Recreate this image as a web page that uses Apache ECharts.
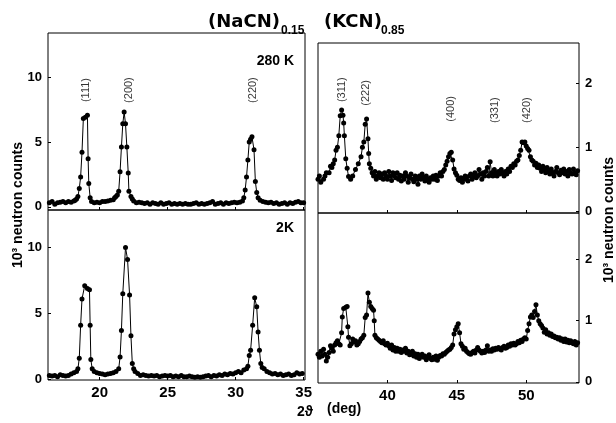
<!DOCTYPE html>
<html>
<head>
<meta charset="utf-8">
<script src="https://cdn.jsdelivr.net/npm/echarts@6/dist/echarts.min.js"></script>
<style>
  html, body { margin: 0; padding: 0; background: #fff; }
  #chart { width: 616px; height: 423px; }
</style>
</head>
<body>
<div id="chart"></div>
<script>
// (NaCN)0.15 (KCN)0.85 neutron powder patterns, 2theta in deg, counts in 10^3

// left block, 2theta 16..35
const naCN280K = [
  [16.3,0.3],[16.5,0.4],[16.7,0.2],[16.9,0.3],[17.1,0.35],[17.3,0.4],[17.5,0.3],[17.7,0.4],[17.9,0.35],
  [18.1,0.45],[18.2,0.5],[18.3,0.6],[18.4,0.8],[18.5,1.4],[18.6,2.3],[18.7,4.2],[18.8,6.8],[18.95,6.9],
  [19.1,7.05],[19.15,3.7],[19.2,1.8],[19.3,0.7],[19.4,0.4],[19.6,0.3],[19.8,0.35],[20.0,0.3],[20.2,0.4],
  [20.4,0.4],[20.6,0.45],[20.8,0.5],[21.0,0.55],[21.1,0.7],[21.2,0.8],[21.3,0.9],[21.4,1.2],[21.5,2.7],
  [21.6,4.6],[21.7,6.4],[21.8,7.3],[21.9,6.4],[22.0,4.6],[22.1,2.6],[22.15,1.2],[22.3,0.8],[22.4,0.6],
  [22.5,0.45],[22.7,0.3],[22.9,0.35],[23.1,0.3],[23.3,0.25],[23.5,0.3],[23.7,0.2],[23.9,0.3],[24.1,0.25],
  [24.3,0.2],[24.5,0.3],[24.7,0.2],[24.9,0.25],[25.1,0.3],[25.3,0.2],[25.5,0.25],[25.7,0.2],[25.9,0.25],
  [26.1,0.2],[26.3,0.25],[26.5,0.2],[26.7,0.2],[26.9,0.25],[27.1,0.3],[27.3,0.2],[27.5,0.25],[27.7,0.2],
  [27.9,0.25],[28.1,0.3],[28.3,0.4],[28.5,0.2],[28.7,0.25],[28.9,0.3],[29.1,0.2],[29.3,0.3],[29.5,0.25],
  [29.7,0.3],[29.9,0.35],[30.1,0.3],[30.3,0.35],[30.5,0.45],[30.6,0.7],[30.7,1.3],[30.8,2.3],[30.9,3.6],
  [31.0,5.0],[31.1,5.2],[31.2,5.4],[31.35,4.4],[31.45,1.95],[31.55,1.1],[31.65,0.7],[31.8,0.5],[32.0,0.4],
  [32.2,0.35],[32.4,0.3],[32.6,0.35],[32.8,0.25],[33.0,0.3],[33.2,0.2],[33.4,0.25],[33.6,0.3],[33.8,0.2],
  [34.0,0.3],[34.2,0.25],[34.4,0.35],[34.6,0.4],[34.8,0.3],[35.0,0.3]
]

const naCN2K = [
  [16.3,0.3],[16.5,0.25],[16.7,0.3],[16.9,0.2],[17.1,0.35],[17.3,0.3],[17.5,0.25],[17.7,0.3],[17.9,0.4],
  [18.1,0.5],[18.3,0.6],[18.4,0.8],[18.5,1.6],[18.6,4.1],[18.7,6.1],[18.9,7.1],[19.1,6.9],[19.25,6.8],
  [19.3,4.1],[19.35,1.5],[19.45,0.8],[19.6,0.6],[19.8,0.5],[20.0,0.45],[20.2,0.4],[20.4,0.35],[20.6,0.4],
  [20.8,0.45],[21.0,0.5],[21.2,0.6],[21.4,0.8],[21.5,1.7],[21.6,3.7],[21.7,6.5],[21.9,10.0],[22.05,9.1],
  [22.2,6.4],[22.3,3.3],[22.4,1.2],[22.5,0.8],[22.6,0.6],[22.8,0.45],[23.0,0.3],[23.2,0.35],[23.4,0.3],
  [23.6,0.25],[23.8,0.3],[24.0,0.25],[24.2,0.3],[24.4,0.2],[24.6,0.25],[24.8,0.3],[25.0,0.25],[25.2,0.3],
  [25.4,0.2],[25.6,0.25],[25.8,0.2],[26.0,0.3],[26.2,0.2],[26.4,0.2],[26.6,0.25],[26.8,0.2],[27.0,0.15],
  [27.2,0.2],[27.4,0.15],[27.6,0.2],[27.8,0.25],[28.0,0.3],[28.2,0.2],[28.4,0.3],[28.6,0.25],[28.8,0.35],
  [29.0,0.3],[29.2,0.4],[29.4,0.35],[29.6,0.45],[29.8,0.4],[30.0,0.5],[30.2,0.6],[30.4,0.5],[30.6,0.7],
  [30.8,0.8],[30.9,1.0],[31.0,1.8],[31.1,2.2],[31.25,4.1],[31.4,6.2],[31.55,5.5],[31.65,3.6],[31.75,2.2],
  [31.85,1.2],[31.95,0.9],[32.1,0.8],[32.3,0.6],[32.5,0.5],[32.7,0.4],[32.9,0.45],[33.1,0.35],[33.3,0.4],
  [33.5,0.3],[33.7,0.35],[33.9,0.4],[34.1,0.3],[34.3,0.35],[34.5,0.5],[34.7,0.4],[34.9,0.45]
]

// right block, 2theta 35..54
const kCN280K = [
  [35.0,0.5],[35.1,0.55],[35.2,0.45],[35.4,0.5],[35.5,0.55],[35.6,0.6],[35.8,0.6],[35.9,0.7],[36.0,0.68],
  [36.1,0.74],[36.2,0.8],[36.3,0.95],[36.4,1.0],[36.5,1.18],[36.6,1.49],[36.7,1.58],[36.8,1.5],[36.85,1.38],
  [36.9,1.18],[37.0,0.82],[37.1,0.67],[37.2,0.54],[37.35,0.5],[37.5,0.55],[37.7,0.65],[37.9,0.74],[38.1,0.85],
  [38.2,1.0],[38.3,1.08],[38.4,1.36],[38.5,1.44],[38.6,1.13],[38.65,0.9],[38.7,0.74],[38.8,0.67],[38.9,0.6],
  [39.0,0.55],[39.1,0.62],[39.2,0.5],[39.3,0.55],[39.4,0.6],[39.5,0.52],[39.6,0.58],[39.7,0.5],[39.8,0.6],
  [39.9,0.55],[40.0,0.5],[40.1,0.62],[40.2,0.55],[40.3,0.48],[40.4,0.6],[40.5,0.55],[40.6,0.52],[40.7,0.6],
  [40.8,0.5],[40.9,0.56],[41.0,0.47],[41.1,0.55],[41.2,0.5],[41.3,0.6],[41.4,0.55],[41.5,0.45],[41.6,0.52],
  [41.7,0.58],[41.8,0.5],[41.9,0.46],[42.0,0.55],[42.1,0.5],[42.2,0.42],[42.3,0.55],[42.4,0.5],[42.5,0.58],
  [42.6,0.52],[42.7,0.47],[42.8,0.55],[42.9,0.5],[43.0,0.45],[43.1,0.52],[43.2,0.5],[43.3,0.55],[43.4,0.5],
  [43.5,0.56],[43.6,0.48],[43.7,0.55],[43.8,0.6],[43.9,0.55],[44.0,0.62],[44.1,0.65],[44.2,0.72],[44.3,0.78],
  [44.4,0.85],[44.5,0.9],[44.6,0.92],[44.7,0.8],[44.8,0.66],[44.9,0.6],[45.0,0.56],[45.1,0.5],[45.2,0.48],
  [45.3,0.52],[45.4,0.45],[45.5,0.5],[45.6,0.55],[45.7,0.5],[45.8,0.47],[45.9,0.55],[46.0,0.58],[46.1,0.5],
  [46.2,0.55],[46.3,0.6],[46.4,0.52],[46.5,0.55],[46.6,0.65],[46.7,0.58],[46.8,0.5],[46.9,0.6],[47.0,0.55],
  [47.1,0.62],[47.2,0.68],[47.3,0.55],[47.4,0.77],[47.5,0.6],[47.6,0.55],[47.7,0.65],[47.8,0.6],[47.9,0.55],
  [48.0,0.62],[48.1,0.58],[48.2,0.65],[48.3,0.6],[48.4,0.55],[48.5,0.62],[48.6,0.58],[48.7,0.66],[48.8,0.62],
  [48.9,0.7],[49.0,0.68],[49.1,0.74],[49.2,0.72],[49.3,0.78],[49.4,0.8],[49.5,0.87],[49.6,0.95],[49.7,1.08],
  [49.8,1.07],[49.9,1.08],[50.0,1.02],[50.1,0.98],[50.2,0.95],[50.3,0.85],[50.4,0.8],[50.5,0.78],[50.6,0.72],
  [50.7,0.75],[50.8,0.68],[50.9,0.72],[51.0,0.67],[51.1,0.62],[51.2,0.7],[51.3,0.65],[51.4,0.6],[51.5,0.68],
  [51.6,0.62],[51.7,0.58],[51.8,0.66],[51.9,0.6],[52.0,0.55],[52.1,0.62],[52.2,0.68],[52.3,0.6],[52.4,0.57],
  [52.5,0.64],[52.6,0.6],[52.7,0.66],[52.8,0.58],[52.9,0.62],[53.0,0.55],[53.1,0.65],[53.2,0.6],[53.3,0.58],
  [53.4,0.66],[53.5,0.6],[53.6,0.57],[53.7,0.63]
]

const kCN2K = [
  [35.0,0.45],[35.1,0.4],[35.2,0.5],[35.3,0.42],[35.4,0.53],[35.5,0.45],[35.6,0.34],[35.7,0.4],[35.8,0.48],
  [35.9,0.59],[36.0,0.55],[36.1,0.5],[36.2,0.6],[36.3,0.64],[36.4,0.67],[36.5,0.62],[36.6,0.6],[36.7,0.8],
  [36.75,1.06],[36.85,1.2],[37.0,1.22],[37.1,1.23],[37.15,0.9],[37.2,0.73],[37.3,0.59],[37.4,0.62],[37.5,0.7],
  [37.6,0.65],[37.7,0.67],[37.8,0.6],[37.9,0.62],[38.0,0.66],[38.1,0.7],[38.2,0.72],[38.3,0.76],[38.4,1.05],
  [38.5,1.09],[38.6,1.45],[38.7,1.3],[38.8,1.23],[38.9,1.2],[39.0,1.17],[39.05,1.0],[39.1,0.76],[39.2,0.72],
  [39.3,0.7],[39.4,0.68],[39.5,0.66],[39.6,0.64],[39.7,0.67],[39.8,0.62],[39.9,0.6],[40.0,0.63],[40.1,0.59],
  [40.2,0.55],[40.3,0.6],[40.4,0.52],[40.5,0.56],[40.6,0.5],[40.7,0.55],[40.8,0.5],[40.9,0.53],[41.0,0.48],
  [41.1,0.52],[41.2,0.5],[41.3,0.55],[41.4,0.47],[41.5,0.5],[41.6,0.44],[41.7,0.45],[41.8,0.5],[41.9,0.42],
  [42.0,0.46],[42.1,0.4],[42.2,0.45],[42.3,0.38],[42.4,0.42],[42.5,0.45],[42.6,0.4],[42.7,0.42],[42.8,0.36],
  [42.9,0.4],[43.0,0.44],[43.1,0.38],[43.2,0.36],[43.3,0.4],[43.4,0.37],[43.5,0.42],[43.6,0.35],[43.7,0.4],
  [43.8,0.43],[43.9,0.42],[44.0,0.46],[44.1,0.45],[44.2,0.48],[44.3,0.5],[44.4,0.52],[44.5,0.53],[44.6,0.56],
  [44.7,0.6],[44.8,0.78],[44.9,0.85],[45.0,0.9],[45.1,0.95],[45.2,0.8],[45.3,0.62],[45.4,0.58],[45.5,0.53],
  [45.6,0.55],[45.7,0.5],[45.8,0.48],[45.9,0.46],[46.0,0.45],[46.1,0.48],[46.2,0.5],[46.3,0.47],[46.4,0.52],
  [46.5,0.56],[46.6,0.52],[46.7,0.5],[46.8,0.47],[46.9,0.5],[47.0,0.48],[47.1,0.52],[47.2,0.59],[47.3,0.5],
  [47.4,0.52],[47.5,0.5],[47.6,0.54],[47.7,0.52],[47.8,0.55],[47.9,0.53],[48.0,0.56],[48.1,0.54],[48.2,0.52],
  [48.3,0.56],[48.4,0.58],[48.5,0.55],[48.6,0.56],[48.7,0.6],[48.8,0.58],[48.9,0.62],[49.0,0.6],[49.1,0.63],
  [49.2,0.6],[49.3,0.62],[49.4,0.66],[49.5,0.64],[49.6,0.68],[49.7,0.66],[49.8,0.7],[49.9,0.72],[50.0,0.7],
  [50.1,0.84],[50.2,0.95],[50.3,1.06],[50.4,1.09],[50.5,1.05],[50.6,1.15],[50.7,1.26],[50.8,1.09],[50.9,1.0],
  [51.0,0.95],[51.1,0.92],[51.2,0.88],[51.3,0.81],[51.4,0.85],[51.5,0.78],[51.6,0.8],[51.7,0.76],[51.8,0.78],
  [51.9,0.74],[52.0,0.75],[52.1,0.72],[52.2,0.73],[52.3,0.7],[52.4,0.72],[52.5,0.68],[52.6,0.7],[52.7,0.66],
  [52.8,0.7],[52.9,0.65],[53.0,0.68],[53.1,0.64],[53.2,0.67],[53.3,0.64],[53.4,0.62],[53.5,0.66],[53.6,0.6],
  [53.7,0.64]
]

// reflections (hkl) and the 2theta they are written at
const naPeaks = ['(111)', '(200)', '(220)']
const naPeakPos = [18.97, 22.13, 31.3]
const kPeaks = ['(311)', '(222)', '(400)', '(331)', '(420)']
const kPeakPos = [36.76, 38.49, 44.6, 47.77, 50.07]

// tick labels
const naTicksX = [20, 25, 30, 35]
const kTicksX = [40, 45, 50]
const naTicksY = [0, 5, 10]
const kTicksY = [0, 1, 2]

// ---------------------------------------------------------------------------

const FONT = 'Liberation Sans'
const BLACK = '#000'

// height (in counts) at which the hkl labels sit
const naLabelY = 9.0
const kLabelY = [1.9, 1.85, 1.6, 1.58, 1.58]

const grids = [
  { left: 48,  top: 33,  width: 257, height: 177 },
  { left: 48,  top: 210, width: 257, height: 170 },
  { left: 318, top: 43,  width: 261, height: 170 },
  { left: 318, top: 213, width: 261, height: 170 },
].map((g) => ({
  ...g,
  show: true,
  borderColor: BLACK,
  borderWidth: 1,
  backgroundColor: 'transparent',
  containLabel: false,
  outerBoundsMode: 'none',
}))

function xAxis(gridIndex, min, max, ticks, showLabels) {
  return {
    type: 'value', gridIndex, min, max,
    axisLine: { show: false, onZero: false },
    axisTick: { show: true, inside: true, length: 3, customValues: ticks, lineStyle: { color: BLACK } },
    axisLabel: {
      show: showLabels, customValues: ticks, margin: 5,
      fontFamily: FONT, fontWeight: 'bold', fontSize: 15, color: BLACK,
    },
    splitLine: { show: false },
  }
}

function yAxis(gridIndex, min, max, ticks, position) {
  return {
    type: 'value', gridIndex, min, max, position,
    axisLine: { show: false, onZero: false },
    axisTick: { show: true, inside: true, length: 3, customValues: ticks, lineStyle: { color: BLACK } },
    axisLabel: {
      show: true, customValues: ticks, margin: 6,
      fontFamily: FONT, fontWeight: 'bold', fontSize: 13, color: BLACK,
    },
    splitLine: { show: false },
  }
}

function pattern(idx, data) {
  return {
    type: 'line', xAxisIndex: idx, yAxisIndex: idx, data,
    symbol: 'circle', symbolSize: 5, showSymbol: true, showAllSymbol: true,
    lineStyle: { color: BLACK, width: 1 },
    itemStyle: { color: BLACK },
    silent: true,
  }
}

function hklLabels(idx, names, pos, heights) {
  return {
    type: 'scatter', xAxisIndex: idx, yAxisIndex: idx, symbolSize: 0, silent: true,
    data: names.map((n, i) => ({ name: n, value: [pos[i], Array.isArray(heights) ? heights[i] : heights] })),
    label: {
      show: true, formatter: '{b}', position: 'inside', rotate: 90,
      fontFamily: FONT, fontSize: 11, color: BLACK,
    },
  }
}

function text(x, y, str, size, extra) {
  return {
    type: 'text', x, y, silent: true,
    style: Object.assign({
      text: str, fontFamily: FONT, fontWeight: 'bold', fontSize: size, fill: BLACK,
    }, extra || {}),
  }
}

const chart = echarts.init(document.getElementById('chart'), null, { renderer: 'canvas' })

chart.setOption({
  animation: false,
  backgroundColor: '#fff',
  grid: grids,
  xAxis: [
    xAxis(0, 16.2, 35.1, naTicksX, false),
    xAxis(1, 16.2, 35.1, naTicksX, true),
    xAxis(2, 35, 53.8, kTicksX, false),
    xAxis(3, 35, 53.8, kTicksX, true),
  ],
  yAxis: [
    yAxis(0, -0.25, 13.4, naTicksY, 'left'),
    yAxis(1, -0.05, 12.85, naTicksY, 'left'),
    yAxis(2, -0.03, 2.63, kTicksY, 'right'),
    yAxis(3, -0.02, 2.76, kTicksY, 'right'),
  ],
  series: [
    pattern(0, naCN280K),
    pattern(1, naCN2K),
    pattern(2, kCN280K),
    pattern(3, kCN2K),
    hklLabels(0, naPeaks, naPeakPos, naLabelY),
    hklLabels(2, kPeaks, kPeakPos, kLabelY),
  ],
  graphic: [
    // titles with subscripts
    text(280, 31, '(NaCN)', 18, { textAlign: 'right', textVerticalAlign: 'bottom', fontFamily: 'DejaVu Sans' }),
    text(281, 37, '0.15', 12, { textAlign: 'left', textVerticalAlign: 'bottom' }),
    text(324, 31, '(KCN)', 18, { textAlign: 'left', textVerticalAlign: 'bottom', fontFamily: 'DejaVu Sans' }),
    text(381, 37, '0.85', 12, { textAlign: 'left', textVerticalAlign: 'bottom' }),
    // temperatures
    text(294, 61, '280 K', 14, { textAlign: 'right', textVerticalAlign: 'middle' }),
    text(294, 228, '2K', 14, { textAlign: 'right', textVerticalAlign: 'middle' }),
    // axis names
    Object.assign(text(18, 205, '10³ neutron counts', 14, { textAlign: 'center', textVerticalAlign: 'middle' }), { rotation: Math.PI / 2 }),
    Object.assign(text(609, 220, '10³ neutron counts', 14, { textAlign: 'center', textVerticalAlign: 'middle' }), { rotation: Math.PI / 2 }),
    text(297, 412, '2ϑ', 14, { textAlign: 'left', textVerticalAlign: 'middle' }),
    text(327, 409, '(deg)', 14, { textAlign: 'left', textVerticalAlign: 'middle' }),
  ],
})
</script>
</body>
</html>
